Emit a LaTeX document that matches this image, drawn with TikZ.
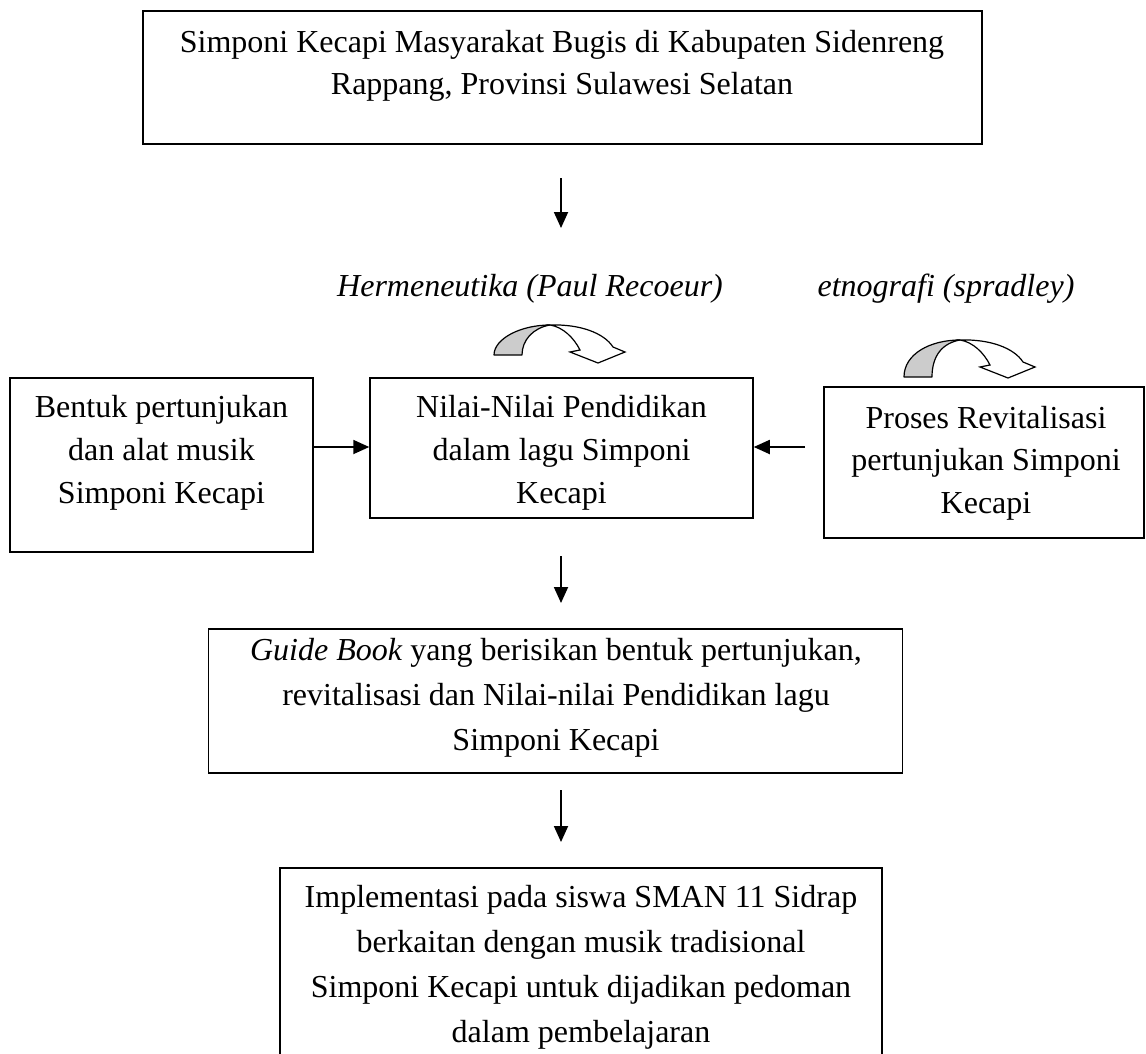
\documentclass[tikz,border=0pt]{standalone}
\usepackage{fontspec}
\setmainfont{Liberation Serif}
\usetikzlibrary{arrows.meta}
\newcommand\mltext[2]{\fontsize{32}{#1}\selectfont\begin{tabular}[t]{@{}c@{}}#2\end{tabular}}
\tikzset{
  box/.style={draw, line width=1.5pt, inner sep=0pt, rectangle},
  txt/.style={anchor=base, inner sep=0pt},
  lbl/.style={anchor=base, inner sep=0pt, font=\fontsize{32}{43}\selectfont\itshape},
  conn/.style={line width=1.8pt, -{Triangle[length=16pt,width=14pt]}},
  pics/carrow/.style={code={
    \filldraw[fill=gray!40, line width=1.2pt, line join=round]
      (-56,#1) .. controls (-56,14) and (-30,0) .. (0,0)
      .. controls (-17,3) and (-28,15) .. (-28,#1) -- cycle;
    \filldraw[fill=white, line width=1.2pt, line join=miter]
      (0,0) .. controls (30,-1) and (54,8) .. (63,22) -- (75,27) -- (48,38)
      -- (20,27) -- (30,25) .. controls (24,13) and (13,2) .. (0,0) -- cycle;
  }}
}
\begin{document}
\begin{tikzpicture}[x=1pt, y=-1pt]
\useasboundingbox (0,0) rectangle (1146,1053);
% boxes
\node[box, minimum width=839pt, minimum height=133pt] (top) at (562.5,77.5) {};
\node[box, minimum width=303pt, minimum height=174pt] (left) at (161.5,465) {};
\node[box, minimum width=383pt, minimum height=140pt] (center) at (561.5,448) {};
\node[box, minimum width=320pt, minimum height=151pt] (right) at (984,462.5) {};
\node[box, minimum width=694pt, minimum height=144pt] (guide) at (555.5,701) {};
\node[box, minimum width=602pt, minimum height=212pt] (bottom) at (581,974) {};
% texts
\node[txt] (ttop) at (562,52) {\mltext{42}{Simponi Kecapi Masyarakat Bugis di Kabupaten Sidenreng\\Rappang, Provinsi Sulawesi Selatan}};
\node[txt] (tleft) at (161.5,417) {\mltext{43}{Bentuk pertunjukan\\dan alat musik\\Simponi Kecapi}};
\node[txt] (tcenter) at (561.5,417) {\mltext{43}{Nilai-Nilai Pendidikan\\dalam lagu Simponi\\Kecapi}};
\node[txt] (tright) at (986,428) {\mltext{42.5}{Proses Revitalisasi\\pertunjukan Simponi\\Kecapi}};
\node[txt] (tguide) at (556,660) {\mltext{45}{\textit{Guide Book} yang berisikan bentuk pertunjukan,\\revitalisasi dan Nilai-nilai Pendidikan lagu\\Simponi Kecapi}};
\node[txt] (tbottom) at (581,907) {\mltext{45}{Implementasi pada siswa SMAN 11 Sidrap\\berkaitan dengan musik tradisional\\Simponi Kecapi untuk dijadikan pedoman\\dalam pembelajaran}};
\node[lbl] (lherm) at (530,296) {Hermeneutika (Paul Recoeur)};
\node[lbl] (letno) at (946,296) {etnografi (spradley)};
% curved arrows
\pic at (550,325) {carrow=30};
\pic at (960,340) {carrow=37};
% connectors
\coordinate (a1s) at (561,178);
\coordinate (a1e) at (561,228);
\coordinate (a2s) at (561,556);
\coordinate (a2e) at (561,603);
\coordinate (a3s) at (561,790);
\coordinate (a3e) at (561,842);
\coordinate (hy) at (0,447);
\coordinate (rs) at (805,447);
\draw[conn] (a1s) -- (a1e);
\draw[conn] (a2s) -- (a2e);
\draw[conn] (a3s) -- (a3e);
\draw[conn] (left.east |- hy) -- (center.west |- hy);
\draw[conn] (rs) -- (center.east |- hy);
\end{tikzpicture}
\end{document}
